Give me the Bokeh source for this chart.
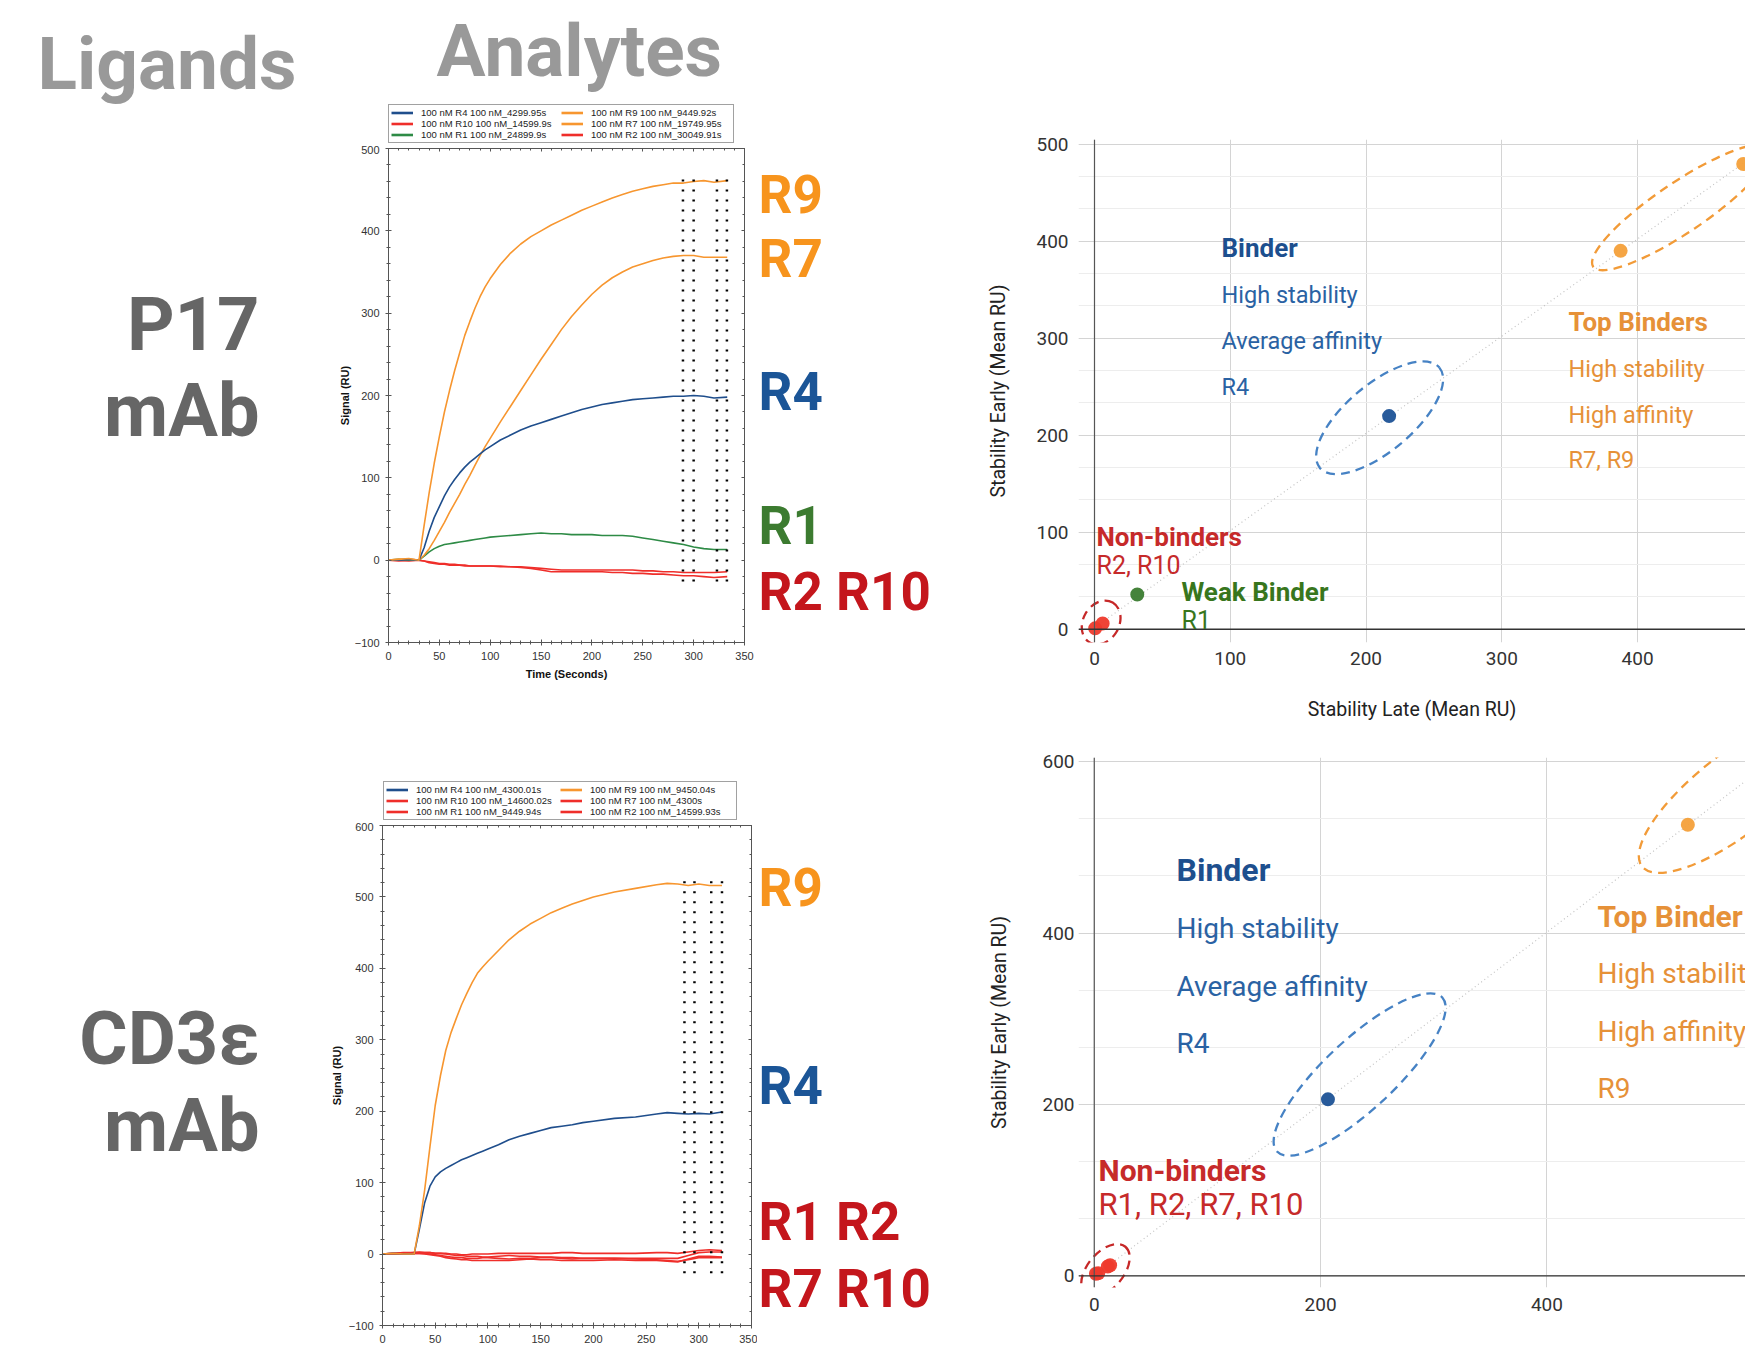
import numpy as np
from bokeh.plotting import figure
from bokeh.layouts import row, column
from bokeh.models import (Range1d, Label, Legend, LegendItem, LinearAxis, SingleIntervalTicker,
                          FixedTicker, Span, CustomJSTickFormatter, Grid)
from bokeh.embed import file_html
from bokeh.resources import INLINE

# ---------------- data: P17 sensorgram ----------------
p17_time = [0, 10, 20, 30, 35, 40, 45, 50, 55, 60, 65, 70, 75, 80, 85, 90, 95, 100,
            110, 120, 130, 140, 150, 160, 170, 180, 190, 200, 210, 220, 230, 240, 250, 260, 270, 280,
            290, 300, 310, 320, 333]
p17_R9 = [0, 1, 2, 0, 42, 82, 118, 150, 180, 206, 230, 252, 273, 290, 306, 320, 332, 342,
          359, 373, 384, 393, 400, 407, 413, 419, 425, 430, 435, 440, 444, 448, 451, 454, 456, 458,
          458, 460, 461, 459, 461]
p17_R7 = [0, 1, 1, 0, 6, 14, 24, 35, 46, 58, 69, 80, 92, 103, 115, 127, 138, 148,
          168, 187, 206, 225, 244, 262, 280, 296, 310, 323, 334, 343, 350, 356, 360, 364, 367, 369,
          370, 370, 368, 368, 368]
p17_R4 = [0, 0, 1, 0, 15, 35, 52, 65, 78, 89, 98, 106, 113, 119, 124, 129, 134, 138,
          146, 152, 158, 163, 167, 171, 175, 179, 183, 186, 189, 191, 193, 195, 196, 197, 198, 199,
          199, 200, 199, 197, 198]
p17_R1 = [0, 1, 0, 0, 5, 10, 14, 17, 19, 20, 21, 22, 23, 24, 25, 26, 27, 28,
          29, 30, 31, 32, 33, 32, 32, 31, 31, 31, 30, 30, 30, 29, 27, 25, 23, 21,
          19, 16, 14, 13, 13]
p17_R10 = [0, -1, 0, 0, -1, -3, -4, -5, -5, -6, -6, -6, -7, -7, -7, -7, -7, -7,
           -7, -8, -8, -9, -10, -11, -12, -12, -12, -12, -12, -12, -12, -12, -13, -13, -14, -14,
           -15, -15, -15, -15, -14]
p17_R2 = [0, 0, -1, 0, -1, -2, -3, -4, -4, -5, -5, -6, -6, -7, -7, -7, -7, -7,
          -8, -8, -9, -10, -12, -14, -14, -14, -14, -14, -14, -15, -15, -16, -16, -17, -17, -18,
          -19, -19, -20, -21, -20]
p17_report_x = [289.5, 300, 322.9, 332.7]
p17_report_y = [-26, 468]
p17_legend = ["100 nM R4 100 nM_4299.95s", "100 nM R10 100 nM_14599.9s", "100 nM R1 100 nM_24899.9s",
              "100 nM R9 100 nM_9449.92s", "100 nM R7 100 nM_19749.95s", "100 nM R2 100 nM_30049.91s"]

# ---------------- data: CD3e sensorgram ----------------
cd3_time = [0, 10, 20, 30, 35, 40, 45, 50, 55, 60, 65, 70, 75, 80, 85, 90, 95, 100,
            110, 120, 130, 140, 150, 160, 170, 180, 190, 200, 220, 240, 260,
            270, 280, 290, 300, 310, 322]
cd3_R9 = [0, 1, 0, 0, 40, 90, 150, 208, 250, 285, 310, 330, 349, 365, 380, 393, 402, 410,
          425, 440, 452, 462, 470, 478, 484, 490, 495, 500, 507, 512, 517,
          519, 518, 516, 518, 516, 516]
cd3_R4 = [0, 1, 0, 0, 35, 72, 95, 108, 115, 120, 124, 128, 132, 135, 138, 141, 144, 147,
          153, 160, 165, 169, 173, 177, 179, 181, 184, 186, 190, 192, 196,
          198, 197, 196, 197, 196, 199]
cd3_R1 = [0, 1, 2, 2, 3, 2, 2, 1, 1, 1, 0, 0, -1, -1, 0, 0, 0, 0,
          1, 1, 1, 1, 1, 1, 2, 2, 1, 1, 1, 1, 2,
          2, 1, 3, 5, 6, 5]
cd3_R10 = [0, 1, 1, 1, 1, 1, 0, -1, -2, -3, -4, -5, -5, -6, -6, -6, -5, -5,
           -6, -7, -6, -6, -5, -5, -6, -7, -6, -6, -6, -6, -6,
           -6, -6, -2, 2, 3, 3]
cd3_R7 = [0, 0, 1, 1, 1, 0, -1, -2, -3, -5, -6, -7, -8, -8, -9, -9, -9, -9,
          -9, -9, -8, -7, -8, -8, -9, -9, -9, -9, -8, -9, -9,
          -10, -11, -7, -3, -3, -4]
cd3_R2 = [0, 0, 1, 2, 2, 2, 2, 1, 1, 0, -1, -2, -2, -3, -3, -3, -4, -4,
          -3, -2, -3, -3, -4, -4, -5, -5, -6, -6, -6, -7, -8,
          -9, -10, -8, -5, -5, -5]
cd3_report_x = [286.4, 295.9, 311.8, 322]
cd3_report_y = [-27, 531]
cd3_legend = ["100 nM R4 100 nM_4300.01s", "100 nM R10 100 nM_14600.02s", "100 nM R1 100 nM_9449.94s",
              "100 nM R9 100 nM_9450.04s", "100 nM R7 100 nM_4300s", "100 nM R2 100 nM_14599.93s"]

# ---------------- data: stability scatter ----------------
p17_names = ["R10", "R2", "R1", "R4", "R7", "R9"]
p17_late = [0.5, 6.0, 31.5, 217.0, 387.5, 477.8]
p17_early = [1.0, 6.0, 35.8, 219.7, 390.0, 479.5]

cd3_names = ["R1", "R2", "R7", "R10", "R4", "R9"]
cd3_late = [1.5, 3.5, 12.0, 14.0, 206.5, 524.5]
cd3_early = [2.5, 3.0, 11.0, 12.5, 206.0, 526.5]

# group ellipses: centre (late, early), size in px, angle in degrees
p17_groups_x = [432.0, 210.0, 4.9]
p17_groups_y = [434.7, 218.0, 7.0]
p17_groups_w = [212, 156, 46]
p17_groups_h = [50, 67, 36]
p17_groups_a = [34, 40, 60]
cd3_groups_x = [567.5, 234.5, 9.9]
cd3_groups_y = [564.0, 235.0, 6.3]
cd3_groups_w = [240, 226, 62]
cd3_groups_h = [80, 70, 36]
cd3_groups_a = [38, 43, 50]

# ---------------- colours ----------------
L_BLUE, L_ORANGE, L_GREEN, L_RED = "#1F4E8C", "#F7962F", "#2E8B46", "#EF2E2A"
T_ORANGE, T_BLUE, T_GREEN, T_RED = "#F7941D", "#1B5597", "#3C7B30", "#C4161C"
P_ORANGE, P_BLUE, P_GREEN, P_RED = "#F4A03A", "#1C5296", "#3B7C30", "#EE3A2C"
S_BLUE_B, S_BLUE, S_ORANGE, S_RED, S_GREEN = "#1D4F8E", "#2A62A3", "#E69138", "#C62A2A", "#38761D"
E_ORANGE, E_BLUE, E_RED = "#F29B38", "#4682C4", "#C62828"

# ---------------- layout geometry (page px) ----------------
W_L, W_M, W_R = 300, 675, 770
H_T1, H_S1, H_T2, H_S2 = 145, 570, 107, 530
H_C1, H_C2 = 730, 622
TOTAL_H = H_T1 + H_S1 + H_T2 + H_S2


def lab(p, fl, fb, px, py, text, size, color, bold=False, font="Roboto", align="left",
        baseline="middle"):
    p.add_layout(Label(x=px - fl, y=fb - py, x_units="screen", y_units="screen", text=text,
                       text_font=font, text_font_size=f"{size}px",
                       text_font_style="bold" if bold else "normal",
                       text_color=color, text_align=align, text_baseline=baseline))


def blank_fig(w, h):
    p = figure(width=w, height=h, x_range=Range1d(0, 1), y_range=Range1d(0, 1),
               x_axis_type=None, y_axis_type=None, min_border=0, outline_line_color=None,
               toolbar_location=None, output_backend="svg")
    p.grid.visible = False
    return p


def legend_box(p, colors, labels, vx, vy, lw):
    # legend keys only: their two points lie outside the visible (0, 1) range
    rs = [p.line([2, 3], [2, 3], line_color=c, line_width=2.6) for c in colors]
    items = [LegendItem(label=t, renderers=[r]) for t, r in zip(labels, rs)]
    lg = Legend(items=items, location=(vx, vy), ncols=2, orientation="vertical",
                label_text_font="Liberation Sans", label_text_font_size="9.5px",
                label_text_color="#222222", glyph_width=22, glyph_height=11, label_height=11,
                label_width=lw, label_standoff=8, spacing=0, padding=2, margin=0,
                border_line_color="#444444", border_line_width=1, background_fill_alpha=1.0)
    p.add_layout(lg)


# ---------------- left text column ----------------
fl = blank_fig(W_L, TOTAL_H)
lab(fl, 0, TOTAL_H, 37, 63.5, "Ligands", 73, "#999999", bold=True)
lab(fl, 0, TOTAL_H, 259, 324, "P17", 74, "#666666", bold=True, align="right")
lab(fl, 0, TOTAL_H, 259, 410, "mAb", 74, "#666666", bold=True, align="right")
lab(fl, 0, TOTAL_H, 259, 1037.5, "CD3ε", 74, "#666666", bold=True, align="right")
lab(fl, 0, TOTAL_H, 259, 1124.5, "mAb", 74, "#666666", bold=True, align="right")

# ---------------- header + legend over P17 sensorgram ----------------
t1 = blank_fig(W_M, H_T1)
lab(t1, 300, H_T1, 436, 50, "Analytes", 73, "#999999", bold=True)
legend_box(t1, [L_BLUE, L_RED, L_GREEN, L_ORANGE, L_ORANGE, L_RED], p17_legend, 88, 2, 140)


def sensor(width, height, bl, fw, bt, fh, y0, y1, xlabel, ylab_std):
    p = figure(width=width, height=height, x_range=Range1d(0, 350), y_range=Range1d(y0, y1),
               x_axis_type=None, y_axis_type=None, toolbar_location=None, output_backend="svg",
               min_border_left=bl, min_border_right=width - bl - fw, min_border_top=bt,
               min_border_bottom=height - bt - fh, outline_line_color=None)
    p.grid.visible = False
    xt = SingleIntervalTicker(interval=50, num_minor_ticks=5)
    yt = SingleIntervalTicker(interval=100, num_minor_ticks=5)
    for loc, tk in [("below", xt), ("above", xt), ("left", yt), ("right", yt)]:
        ax = LinearAxis(ticker=tk)
        ax.axis_line_color = "#555555"
        ax.major_tick_line_color = "#555555"
        ax.minor_tick_line_color = "#555555"
        ax.major_tick_in, ax.major_tick_out = 3, 3
        ax.minor_tick_in, ax.minor_tick_out = 2, 2
        ax.major_label_text_font = "Liberation Sans"
        ax.major_label_text_font_size = "11px"
        ax.major_label_text_color = "#333333"
        ax.major_label_standoff = 6
        if loc in ("above", "right"):
            ax.formatter = CustomJSTickFormatter(code="return ''")
            ax.major_label_standoff = 0
            ax.major_label_text_font_size = "0px"
            ax.major_tick_out = 0
            ax.minor_tick_out = 0
        if loc == "below" and xlabel:
            ax.axis_label = xlabel
        if loc == "left":
            ax.axis_label = "Signal (RU)"
        ax.axis_label_text_font = "Liberation Sans"
        ax.axis_label_text_font_size = "11px"
        ax.axis_label_text_font_style = "bold"
        ax.axis_label_text_color = "#111111"
        ax.axis_label_standoff = ylab_std if loc == "left" else 5
        p.add_layout(ax, loc)
    return p


# ---- P17 sensorgram (frame page x 388..744, y 148..642) ----
s1 = sensor(455, H_S1, 88, 356, 3, 494, -100, 500, "Time (Seconds)", 1)
s1.line(p17_time, p17_R10, color=L_RED, line_width=1.6)
s1.line(p17_time, p17_R2, color=L_RED, line_width=1.6)
s1.line(p17_time, p17_R1, color=L_GREEN, line_width=1.6)
s1.line(p17_time, p17_R7, color=L_ORANGE, line_width=1.6)
s1.line(p17_time, p17_R4, color=L_BLUE, line_width=1.6)
s1.line(p17_time, p17_R9, color=L_ORANGE, line_width=1.6)
s1.segment(x0=p17_report_x, y0=[p17_report_y[0]] * 4, x1=p17_report_x, y1=[p17_report_y[1]] * 4,
           line_color="black", line_width=2.5, line_dash="2 8")

# R labels: the row aligns this figure's frame with the sensorgram frame (page y 148..642)
rl1 = blank_fig(W_M - 455, H_S1)
RL1L, RL1B = 755, 642
for txt, py, col in [("R9", 194, T_ORANGE), ("R7", 258.5, T_ORANGE), ("R4", 391, T_BLUE),
                     ("R1", 525.5, T_GREEN), ("R2 R10", 591.5, T_RED)]:
    lab(rl1, RL1L, RL1B, 758, py, txt, 53, col, bold=True)

# ---- legend over CD3e sensorgram ----
t2 = blank_fig(W_M, H_T2)
legend_box(t2, [L_BLUE, L_RED, L_RED, L_ORANGE, L_RED, L_RED], cd3_legend, 83, 2, 144)

# ---- CD3e sensorgram (frame page x 382..751, y 825..1325) ----
s2 = sensor(457, H_S2, 82, 369, 3, 500, -100, 600, None, 3)
s2.line(cd3_time, cd3_R10, color=L_RED, line_width=1.6)
s2.line(cd3_time, cd3_R1, color=L_RED, line_width=1.6)
s2.line(cd3_time, cd3_R7, color=L_RED, line_width=1.6)
s2.line(cd3_time, cd3_R2, color=L_RED, line_width=1.6)
s2.line(cd3_time, cd3_R4, color=L_BLUE, line_width=1.6)
s2.line(cd3_time, cd3_R9, color=L_ORANGE, line_width=1.6)
s2.segment(x0=cd3_report_x, y0=[cd3_report_y[0]] * 4, x1=cd3_report_x, y1=[cd3_report_y[1]] * 4,
           line_color="black", line_width=2.5, line_dash="2 8")

rl2 = blank_fig(W_M - 457, H_S2)
RL2L, RL2B = 757, 1325
for txt, py, col in [("R9", 887.5, T_ORANGE), ("R4", 1085.5, T_BLUE), ("R1 R2", 1221.5, T_RED),
                     ("R7 R10", 1288.5, T_RED)]:
    lab(rl2, RL2L, RL2B, 758, py, txt, 53, col, bold=True)


# ---------------- scatter plots ----------------
def scatter_fig(height, bl, bt, fh, xr, yr, xticks, yticks, yminor, xlabel, ylab_std,
                ytitle_std, xlab_std, xtitle_std):
    p = figure(width=W_R, height=height, x_range=Range1d(*xr), y_range=Range1d(*yr),
               x_axis_type=None, y_axis_type=None, toolbar_location=None, output_backend="svg",
               min_border_left=bl, min_border_right=0, min_border_top=bt,
               min_border_bottom=height - bt - fh, outline_line_color=None)
    xt = FixedTicker(ticks=xticks)
    yt = FixedTicker(ticks=yticks, minor_ticks=yminor)
    p.add_layout(Grid(dimension=0, ticker=xt, grid_line_color="#D4D4D4"))
    p.add_layout(Grid(dimension=1, ticker=yt, grid_line_color="#D4D4D4",
                      minor_grid_line_color="#EDEDED"))
    for loc, tk in [("below", xt), ("left", yt)]:
        ax = LinearAxis(ticker=tk)
        ax.axis_line_color = None
        ax.major_tick_line_color = None
        ax.minor_tick_line_color = None
        ax.major_tick_in = ax.major_tick_out = 0
        ax.minor_tick_in = ax.minor_tick_out = 0
        ax.major_label_text_font = "Roboto"
        ax.major_label_text_font_size = "19px"
        ax.major_label_text_color = "#333333"
        ax.axis_label_text_font = "Roboto"
        ax.axis_label_text_font_size = "19.5px"
        ax.axis_label_text_font_style = "normal"
        ax.axis_label_text_color = "#222222"
        if loc == "below":
            ax.major_label_standoff = xlab_std
            if xlabel:
                ax.axis_label = xlabel
            ax.axis_label_standoff = xtitle_std
        else:
            ax.major_label_standoff = ylab_std
            ax.axis_label = "Stability Early (Mean RU)"
            ax.axis_label_standoff = ytitle_std
        p.add_layout(ax, loc)
    p.add_layout(Span(location=0, dimension="height", line_color="#555555", line_width=1.2))
    p.add_layout(Span(location=0, dimension="width", line_color="#333333", line_width=1.4))
    return p


def add_trend(p, xs, ys, xend):
    k, b = np.polyfit(xs, ys, 1)
    x0 = min(xs)
    p.line([x0, xend], [k * x0 + b, k * xend + b], line_color="#C4C4C4", line_width=1.2,
           line_dash="1 3")


def add_groups(p, gx, gy, gw, gh, ga, cols):
    p.ellipse(x=gx, y=gy, width=gw, height=gh, angle=[np.radians(a) for a in ga],
              width_units="screen", height_units="screen", fill_color=None, line_color=cols,
              line_width=2.3, line_dash="9 6")


# ---- P17 scatter (frame page x 1078..1745, y 139..642) ----
s1x = (1471 - 983) * (1745 / 1568) / 400.0
s1y = (628.8 - 143.6) / 500.0
c1 = scatter_fig(H_C1, 103, 139, 503, (-16 / s1x, (1745 - 1094) / s1x),
                 (-(642 - 628.8) / s1y, 500 + (143.6 - 139) / s1y),
                 [0, 100, 200, 300, 400], [0, 100, 200, 300, 400, 500],
                 list(np.arange(0, 501, 100 / 3)), "Stability Late (Mean RU)", 10, 23, 9, 30)
add_trend(c1, p17_late, p17_early, (1745 - 1094) / s1x)
add_groups(c1, p17_groups_x, p17_groups_y, p17_groups_w, p17_groups_h, p17_groups_a,
           [E_ORANGE, E_BLUE, E_RED])
p17_cols = [P_RED, P_RED, P_GREEN, P_BLUE, P_ORANGE, P_ORANGE]
c1.scatter(p17_late, p17_early, size=14, fill_color=p17_cols, line_color=None, fill_alpha=0.95)
C1L, C1B = 1078, 642
lab(c1, C1L, C1B, 1221, 247, "Binder", 26, S_BLUE_B, bold=True)
lab(c1, C1L, C1B, 1221, 294, "High stability", 23.5, S_BLUE)
lab(c1, C1L, C1B, 1221, 340.5, "Average affinity", 23.5, S_BLUE)
lab(c1, C1L, C1B, 1221, 386, "R4", 23.5, S_BLUE)
lab(c1, C1L, C1B, 1568, 321.6, "Top Binders", 26, S_ORANGE, bold=True)
lab(c1, C1L, C1B, 1568, 368.4, "High stability", 23.5, S_ORANGE)
lab(c1, C1L, C1B, 1568, 414, "High affinity", 23.5, S_ORANGE)
lab(c1, C1L, C1B, 1568, 459.6, "R7, R9", 23.5, S_ORANGE)
lab(c1, C1L, C1B, 1096, 536.4, "Non-binders", 26, S_RED, bold=True)
lab(c1, C1L, C1B, 1096, 565.4, "R2, R10", 25, S_RED)
lab(c1, C1L, C1B, 1181, 591, "Weak Binder", 26, S_GREEN, bold=True)
lab(c1, C1L, C1B, 1181, 620, "R1", 25, S_GREEN)

# ---- CD3e scatter (frame page x 1076..1745, y 757..1287) ----
s2x = (1389 - 981) * (1745 / 1568) / 400.0
s2y = (1275.4 - 761.2) / 600.0
c2 = scatter_fig(H_C2, 101, 27, 530, (-(1091.8 - 1076) / s2x, (1745 - 1091.8) / s2x),
                 (-(1287 - 1275.4) / s2y, 600 + (761.2 - 757) / s2y),
                 [0, 200, 400], [0, 200, 400, 600],
                 list(np.arange(0, 601, 200 / 3)), None, 4, 28, 10, 10)
add_trend(c2, cd3_late, cd3_early, (1745 - 1091.8) / s2x)
add_groups(c2, cd3_groups_x, cd3_groups_y, cd3_groups_w, cd3_groups_h, cd3_groups_a,
           [E_ORANGE, E_BLUE, E_RED])
cd3_cols = [P_RED, P_RED, P_RED, P_RED, P_BLUE, P_ORANGE]
c2.scatter(cd3_late, cd3_early, size=14, fill_color=cd3_cols, line_color=None, fill_alpha=0.95)
C2L, C2B = 1076, 1287
lab(c2, C2L, C2B, 1174, 869, "Binder", 32, S_BLUE_B, bold=True)
lab(c2, C2L, C2B, 1174, 928, "High stability", 28, S_BLUE)
lab(c2, C2L, C2B, 1174, 986, "Average affinity", 28, S_BLUE)
lab(c2, C2L, C2B, 1174, 1043, "R4", 28, S_BLUE)
lab(c2, C2L, C2B, 1595, 916, "Top Binder", 30, S_ORANGE, bold=True)
lab(c2, C2L, C2B, 1595, 972.7, "High stability", 28, S_ORANGE)
lab(c2, C2L, C2B, 1595, 1030.5, "High affinity", 28, S_ORANGE)
lab(c2, C2L, C2B, 1595, 1088.4, "R9", 28, S_ORANGE)
lab(c2, C2L, C2B, 1096, 1169.7, "Non-binders", 30, S_RED, bold=True)
lab(c2, C2L, C2B, 1096, 1204.2, "R1, R2, R7, R10", 31, S_RED)

layout = row(fl,
             column(t1, row(s1, rl1), t2, row(s2, rl2)),
             column(c1, c2))
open("out.html", "w").write(file_html(layout, INLINE))
